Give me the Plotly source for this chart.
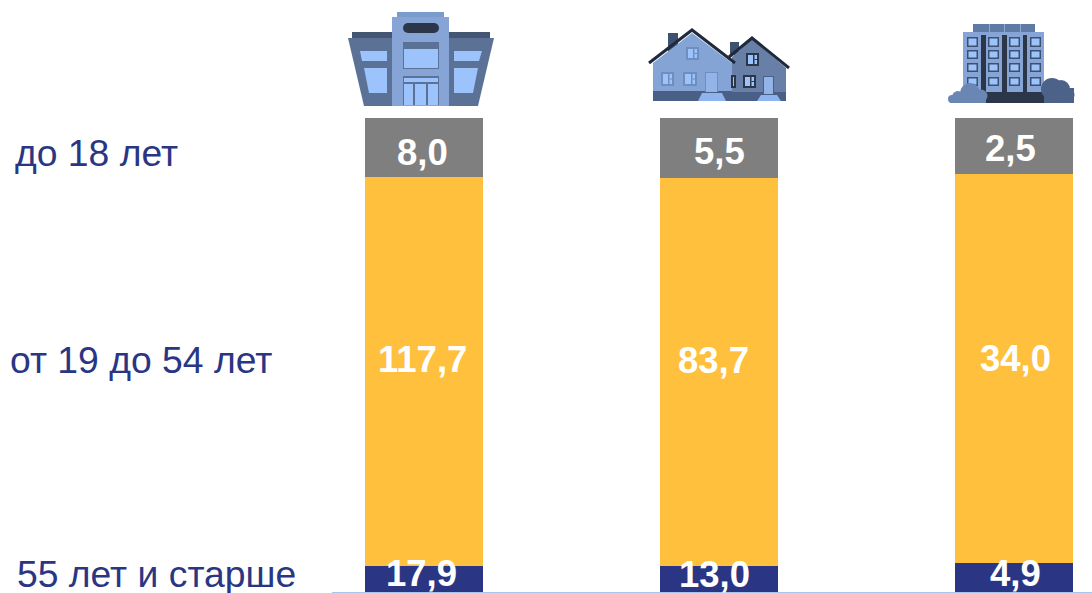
import plotly.graph_objects as go

W, H = 1092, 593
TOP, BOTTOM = 118, 592

categories = ["Торговые центры", "Частные дома", "Многоквартирные дома"]
# Bar heights as drawn in the reference (the printed labels of the outer segments are crossed over)
navy_values = [8.0, 5.5, 2.5]
yellow_values = [117.7, 83.7, 34.0]
gray_values = [17.9, 13.0, 4.9]
gray_labels = ["8,0", "5,5", "2,5"]
yellow_labels = ["117,7", "83,7", "34,0"]
navy_labels = ["17,9", "13,0", "4,9"]
age_groups = ["до 18 лет", "от 19 до 54 лет", "55 лет и старше"]

NAVY, YELLOW, GRAY = "#2a3683", "#ffc13d", "#7f7f7f"
TEXT = "#2a3683"
LIGHT = "#9cc3fb"
MID = "#86a5d6"
SLATE = "#5b7195"
DARK = "#2b3648"
STEEL = "#445672"

fig = go.Figure()
for name, vals, col in [("55 лет и старше", navy_values, NAVY),
                        ("от 19 до 54 лет", yellow_values, YELLOW),
                        ("до 18 лет", gray_values, GRAY)]:
    fig.add_bar(x=categories, y=vals, name=name, marker=dict(color=col, line=dict(width=0)), width=0.4)

annotations = []
shifts = {"navy": [5, 5, 4], "yellow": [12, 12, 10], "gray": [-5, -3, -2]}
xshifts = {"navy": [-3, -5, 1.5], "yellow": [-2, -6, 1], "gray": [-2, 0, -4]}
for i, c in enumerate(categories):
    total = navy_values[i] + yellow_values[i] + gray_values[i]
    n, y = navy_values[i] / total * 100, yellow_values[i] / total * 100
    g = gray_values[i] / total * 100
    for lab, pos, key in [(navy_labels[i], n / 2, "navy"),
                          (yellow_labels[i], n + y / 2, "yellow"),
                          (gray_labels[i], n + y + g / 2, "gray")]:
        annotations.append(dict(x=c, y=pos, yshift=shifts[key][i], xshift=xshifts[key][i], xref="x", yref="y",
                                text=f"<b>{lab}</b>", showarrow=False,
                                font=dict(family="Liberation Sans", size=36.5, color="white")))

for lab, px, py in zip(age_groups, [15, 10, 17], [153, 360, 574]):
    annotations.append(dict(x=px / W, y=(BOTTOM - py) / (BOTTOM - TOP), xref="paper", yref="paper", text=lab,
                            showarrow=False, xanchor="left", yanchor="middle", xshift=-2,
                            font=dict(family="Liberation Sans", size=37.3, color=TEXT)))


def X(p):
    return p / W


def Y(p):
    return (BOTTOM - p) / (BOTTOM - TOP)


shapes = []


def rect(x0, y0, x1, y1, c):
    shapes.append(dict(type="rect", xref="paper", yref="paper", x0=X(x0), x1=X(x1), y0=Y(y1), y1=Y(y0),
                       fillcolor=c, line=dict(width=0), layer="above"))


def circ(cx, cy, r, c):
    shapes.append(dict(type="circle", xref="paper", yref="paper", x0=X(cx - r), x1=X(cx + r), y0=Y(cy + r),
                       y1=Y(cy - r), fillcolor=c, line=dict(width=0), layer="above"))


def path(pts, fill=None, stroke=None, w=0):
    d = "M " + " L ".join(f"{X(a):.5f},{Y(b):.5f}" for a, b in pts)
    if fill:
        d += " Z"
    shapes.append(dict(type="path", xref="paper", yref="paper", path=d, fillcolor=fill or "rgba(0,0,0,0)",
                       line=dict(width=w, color=stroke or "rgba(0,0,0,0)"), layer="above"))


# baseline
shapes.append(dict(type="line", xref="paper", yref="paper", x0=X(332), x1=1, y0=Y(592.7), y1=Y(592.7),
                   line=dict(color="#a8c6e8", width=1.5), layer="above"))

# icon 1: shopping centre
rect(352, 32, 392, 38, STEEL)
rect(449, 32, 490, 38, STEEL)
path([(348, 38), (392, 38), (392, 106), (364, 106)], SLATE)
path([(449, 38), (494, 38), (478, 106), (449, 106)], SLATE)
path([(360, 51), (387, 51), (387, 61), (362, 61)], LIGHT)
path([(364, 68), (387, 68), (387, 93), (369, 93)], LIGHT)
path([(454, 51), (482, 51), (479, 61), (454, 61)], LIGHT)
path([(454, 68), (478, 68), (473, 93), (454, 93)], LIGHT)
rect(397, 12, 444, 17, "#7a9ccc")
rect(392, 17, 449, 106, MID)
rect(408, 23, 434, 33, DARK)
circ(408, 28, 5, DARK)
circ(434, 28, 5, DARK)
rect(403, 42, 439, 69, SLATE)
rect(404, 49, 438, 68, LIGHT)
rect(403, 76, 439, 105, SLATE)
rect(404, 78, 438, 82, LIGHT)
for a, b in [(404, 413), (415, 426), (428, 438)]:
    rect(a, 84, b, 105, LIGHT)

# icon 2: houses
rect(668, 33, 678, 53, "#3f5170")
rect(730, 42, 739, 55, "#3f5170")
path([(732, 57), (752, 39), (786, 68), (786, 101), (732, 101)], "#687fa8")
path([(653, 63), (692, 33), (732, 63), (732, 101), (653, 101)], "#84a4d6")
rect(653, 91, 732, 101, "#4a5f85")
rect(732, 92, 786, 101, "#4a5f85")
path([(649, 63), (692, 30), (735, 63)], stroke="#1f2a3c", w=3)
path([(729, 57), (752, 38), (789, 68)], stroke="#1f2a3c", w=3)
path([(698, 101), (702, 93), (722, 93), (726, 101)], "#8fb3ec")
path([(757, 101), (761, 95), (777, 95), (781, 101)], "#8fb3ec")
rect(705, 72, 718, 92, "#6f8dbd")
rect(706, 73, 717, 92, "#92b4e8")
rect(763, 76, 774, 94, "#4a5f85")
rect(764, 77, 773, 94, "#92b4e8")
for x0, y0, x1, y1, frame in [(686, 47, 699, 60, "#6f8dbd"), (661, 72, 674, 86, "#6f8dbd"), (683, 72, 697, 86, "#6f8dbd"),
                              (746, 53, 759, 66, DARK), (743, 75, 756, 88, DARK), (731, 75, 736, 88, DARK)]:
    rect(x0, y0, x1, y1, frame)
    rect(x0 + 2, y0 + 2, x1 - 2, y1 - 2, LIGHT)
    m = x1 - 6 if x1 - x0 > 8 else x0 + 2
    if x1 - x0 > 8:
        rect(m, y0 + 2, m + 1.5, y1 - 2, frame)
        rect(m + 1.5, (y0 + y1) / 2 - 0.5, x1 - 2, (y0 + y1) / 2 + 0.5, frame)

# icon 3: apartment block
rect(973, 24, 1035, 32, "#5f7ba5")
for a in (989, 1004, 1020):
    rect(a, 24, a + 0.8, 32, "#9ab4dc")
rect(963, 32, 1044, 103, MID)
for a, b in [(981, 986), (1002, 1007), (1023, 1027)]:
    rect(a, 35, b, 92, DARK)
rect(986, 92, 1044, 103, DARK)
for a, b in [(967, 978), (988, 999), (1009, 1020), (1030, 1041)]:
    for c, d in [(37, 47), (50, 59), (63, 72), (77, 86)]:
        rect(a, c, b, d, "#3e5070")
        rect(a + 1.5, c + 1.5, b - 1.5, d - 1.5, LIGHT)
BL, BR = "#6a86b3", "#4d6288"
rect(950, 97, 986, 103, BL)
circ(970, 93, 10, BL)
circ(958, 97, 6, BL)
circ(981, 96, 6.5, BL)
circ(952, 99, 4, BL)
rect(1044, 88, 1074, 103, BR)
circ(1052, 89, 11, BR)
circ(1061, 89, 9, BR)
circ(1068, 95, 6.5, BR)

c0 = -424.4 / 295
fig.update_layout(
    barmode="stack", barnorm="percent", width=W, height=H, showlegend=False,
    margin=dict(l=0, r=0, t=TOP, b=H - BOTTOM, pad=0),
    paper_bgcolor="white", plot_bgcolor="white",
    xaxis=dict(range=[c0, c0 + W / 295], visible=False),
    yaxis=dict(range=[0, 100], visible=False),
    annotations=annotations, shapes=shapes,
)
fig.write_html("out.html", config=dict(displayModeBar=False),
               post_script="document.body.style.margin='0';document.documentElement.style.overflow='hidden';")
